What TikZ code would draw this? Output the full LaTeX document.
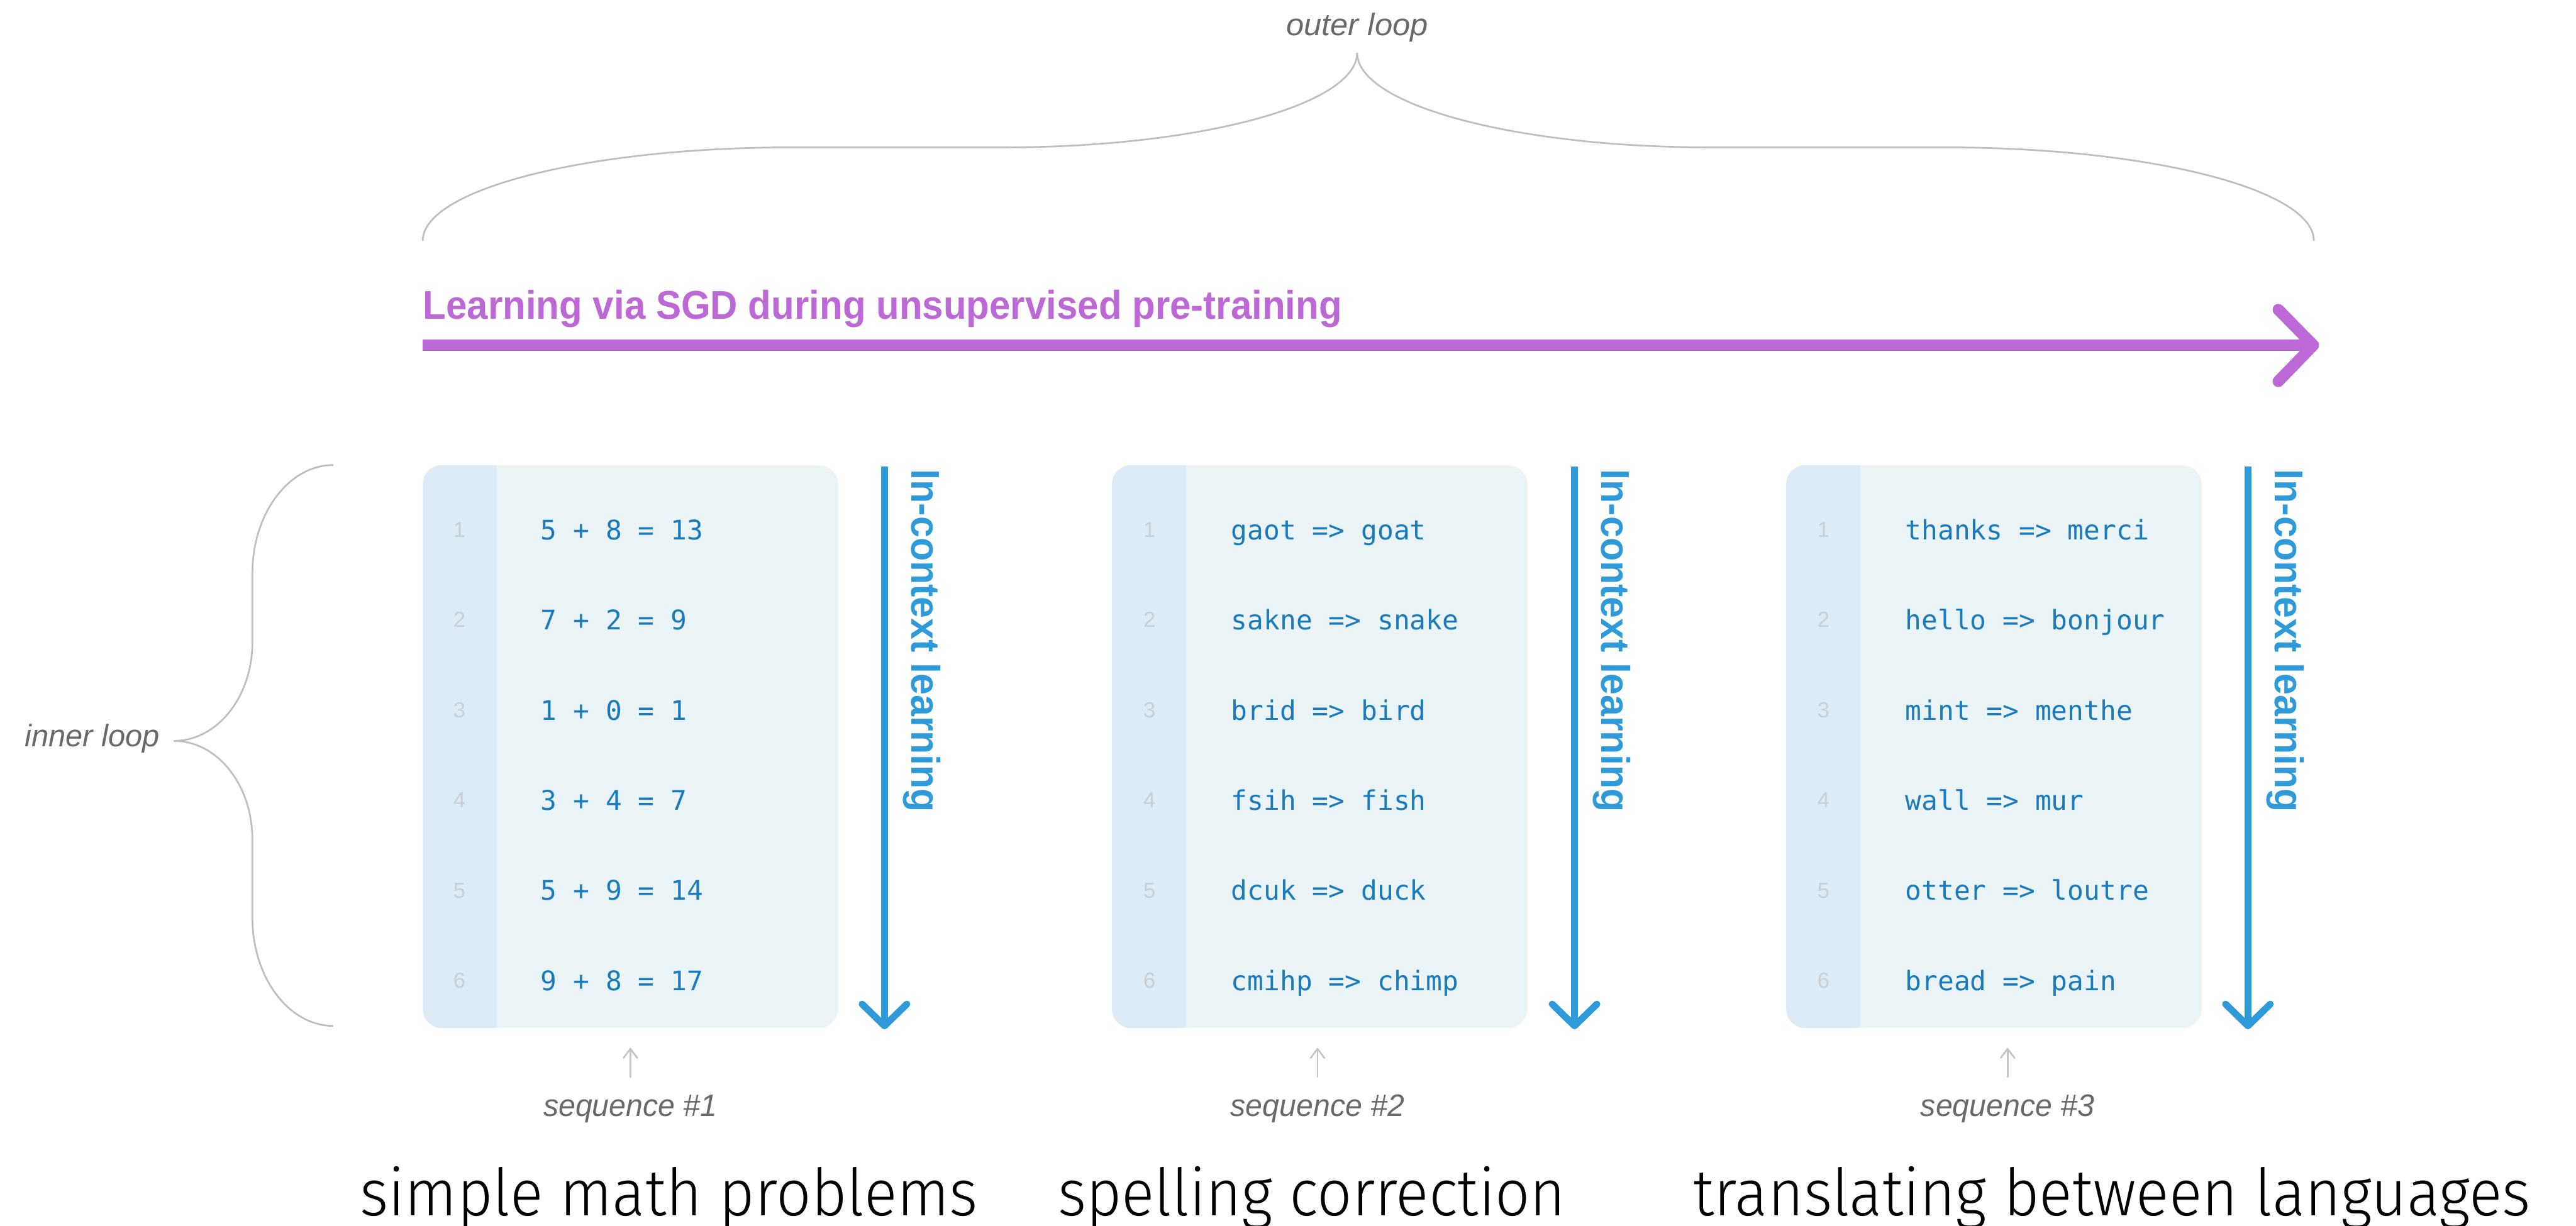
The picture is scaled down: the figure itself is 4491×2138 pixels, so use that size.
\documentclass[tikz,border=0pt]{standalone}
\usepackage{fontspec}
\usepackage{graphicx}
\setmainfont{Liberation Sans}
\newfontfamily\monofont{DejaVu Sans Mono}
\newfontfamily\capfont{Fira Sans Light}
\usetikzlibrary{calc}

\definecolor{sgdpurple}{RGB}{188,104,214}
\definecolor{iclblue}{RGB}{46,154,218}
\definecolor{codeblue}{RGB}{26,122,190}
\definecolor{codebg}{RGB}{234,244,246}
\definecolor{gutterbg}{RGB}{220,235,246}
\definecolor{guttertext}{RGB}{200,209,216}
\definecolor{notegray}{RGB}{105,105,105}
\definecolor{bracegray}{RGB}{190,190,190}
\definecolor{tickgray}{RGB}{196,196,196}

\begin{document}
\begin{tikzpicture}[
  x=0.01cm, y=-0.01cm,
  looplabel/.style={font=\fontsize{15.4}{18}\selectfont\itshape, text=notegray, inner sep=0},
  sgdtitle/.style={font=\fontsize{19.9}{24}\selectfont\bfseries, text=sgdpurple, inner sep=0, anchor=base west},
  icllabel/.style={font=\fontsize{19.9}{24}\selectfont\bfseries, text=iclblue, inner sep=0, rotate=-90, anchor=base west},
  codeline/.style={font=\monofont\fontsize{13.37}{16}\selectfont, text=codeblue, inner sep=0, anchor=base west},
  lineno/.style={font=\fontsize{10.8}{13}\selectfont, text=guttertext, inner sep=0, anchor=base},
  taskcap/.style={font=\capfont\fontsize{32.4}{38}\selectfont, text=black, inner sep=0, anchor=base},
  seqbox/.style={fill=codebg, draw=none, rounded corners=0.33cm, minimum width=7.23cm, minimum height=9.8cm, inner sep=0},
  bracepath/.style={draw=bracegray, line width=0.85pt},
  sgdshaft/.style={draw=sgdpurple, line width=5.7pt},
  sgdhead/.style={draw=sgdpurple, line width=5.7pt, line cap=round, line join=round},
  iclshaft/.style={draw=iclblue, line width=3.4pt},
  iclhead/.style={draw=iclblue, line width=3.4pt, line cap=round, line join=round},
  seqtick/.style={draw=tickgray, line width=0.85pt, line cap=round, line join=round}
]
\useasboundingbox (0,0) rectangle (4491,2138);

% outer loop: brace over the whole training run
\node[looplabel, anchor=base] (outer) at (2366,62) {\resizebox{2.47cm}{\height}{outer loop}};
\coordinate (obL) at (737,420);
\coordinate (obTip) at (2366,92);
\coordinate (obR) at (4034,420);
\draw[bracepath] (obL) .. controls (737,330) and (1025,257) .. (1380,257) -- (1750,257)
  .. controls (2090,257) and (2366,183) .. (obTip);
\draw[bracepath] (obTip) .. controls (2366,183) and (2642,257) .. (2982,257) -- (3391,257)
  .. controls (3746,257) and (4034,330) .. (obR);

% pre-training arrow
\node[sgdtitle] (sgd) at (737,556) {\resizebox{16.01cm}{\height}{Learning via SGD during unsupervised pre-training}};
\coordinate (sgdA) at (737,602);
\coordinate (sgdB) at (4030,602);
\coordinate (sgdTip) at (4033,602);
\draw[sgdshaft] (sgdA) -- (sgdB);
\draw[sgdhead] (3972,540) -- (sgdTip) -- (3972,665);

% inner loop: brace along one sequence
\node[looplabel, anchor=base east] (inner) at (279,1302) {\resizebox{2.35cm}{\height}{inner loop}};
\coordinate (ibT) at (581,811);
\coordinate (ibTip) at (303,1292);
\coordinate (ibB) at (581,1789);
\draw[bracepath] (ibT) .. controls (503,811) and (440,896) .. (440,1000) -- (440,1120)
  .. controls (440,1215) and (379,1292) .. (ibTip);
\draw[bracepath] (ibTip) .. controls (379,1292) and (440,1369) .. (440,1464) -- (440,1600)
  .. controls (440,1704) and (503,1789) .. (ibB);

% the three sequences
\foreach \b/\cx/\lft/\ax/\sx in {1/1099.5/737/1542/1099, 2/2301/1940/2745/2297, 3/3476.5/3115/3919/3500}{
  \node[seqbox] (box\b) at (\cx,1302) {};
  \begin{scope}
    \clip[rounded corners=0.33cm] (box\b.north west) rectangle (box\b.south east);
    \fill[gutterbg] (box\b.north west) rectangle ($(box\b.south west)+(129,0)$);
  \end{scope}
  \foreach \i in {1,...,6}{
    \node[lineno] (num\b-\i) at (\lft+64, {937+157.2*(\i-1)}) {\i};
  }
  % in-context arrow
  \coordinate (iclA\b) at (\ax,814);
  \coordinate (iclB\b) at (\ax,1789);
  \draw[iclshaft] (iclA\b) -- ($(iclB\b)+(0,-4)$);
  \draw[iclhead] ($(iclB\b)+(-39,-38)$) -- (iclB\b) -- ($(iclB\b)+(39,-38)$);
  \node[icllabel] (icl\b) at (\ax+47,818) {\resizebox{5.97cm}{\height}{In-context learning}};
  % sequence label
  \node[looplabel, anchor=base] (seq\b) at (\sx,1947) {\resizebox{3.03cm}{\height}{sequence \#\b}};
  \coordinate (tickA\b) at (\sx,1878);
  \coordinate (tickB\b) at (\sx,1829);
  \draw[seqtick] (tickA\b) -- (tickB\b);
  \draw[seqtick] ($(tickB\b)+(-12,16)$) -- (tickB\b) -- ($(tickB\b)+(12,16)$);
}

\foreach \t [count=\i] in {5 + 8 = 13, 7 + 2 = 9, 1 + 0 = 1, 3 + 4 = 7, 5 + 9 = 14, 9 + 8 = 17}{
  \node[codeline] (row1-\i) at (942, {941+157.2*(\i-1)}) {\t};
}
\foreach \t [count=\i] in {gaot => goat, sakne => snake, brid => bird, fsih => fish, dcuk => duck, cmihp => chimp}{
  \node[codeline] (row2-\i) at (2146, {941+157.2*(\i-1)}) {\t};
}
\foreach \t [count=\i] in {thanks => merci, hello => bonjour, mint => menthe, wall => mur, otter => loutre, bread => pain}{
  \node[codeline] (row3-\i) at (3321, {941+157.2*(\i-1)}) {\t};
}

% task captions
\node[taskcap] (cap1) at (1166,2120) {\resizebox{10.77cm}{\height}{simple math problems}};
\node[taskcap] (cap2) at (2287,2120) {\resizebox{8.85cm}{\height}{spelling correction}};
\node[taskcap] (cap3) at (3682,2120) {\resizebox{14.59cm}{\height}{translating between languages}};
\end{tikzpicture}
\end{document}
